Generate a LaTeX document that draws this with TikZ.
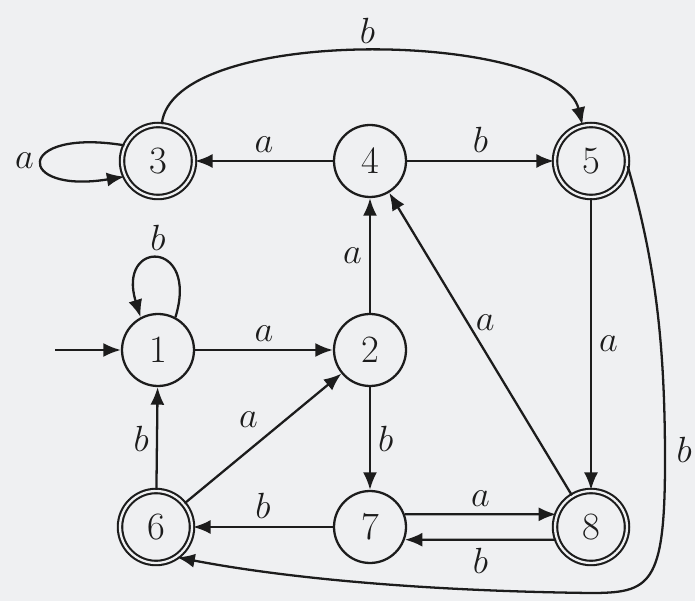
\documentclass[tikz,border=0pt]{standalone}
\usepackage{xcolor}
\usepackage{tikz}
\usetikzlibrary{arrows.meta}

\definecolor{paper}{RGB}{239,240,242}
\definecolor{ink}{RGB}{28,28,28}

\begin{document}
\begin{tikzpicture}[
        x=0.02cm, y=0.02cm,
        state/.style={circle, draw=ink, line width=1.3pt, fill=paper, minimum size=1.44cm, inner sep=0pt, text=ink, font=\fontsize{22}{26}\selectfont},
        accepting/.style={state, double=paper, double distance=1.3pt, line width=1.2pt},
        arrow/.style={-{Latex[length=10pt,width=8pt]}, line width=1.3pt, draw=ink},
        lbl/.style={font=\huge, text=ink, inner sep=4pt}
    ]

        \fill[paper] (0,0) rectangle (695,601);
        \useasboundingbox (0,0) rectangle (695,601);

        % States
        \node[accepting] (n3) at (158,440) {3};
        \node[state] (n4) at (370,440) {4};
        \node[accepting] (n5) at (591,440) {5};
        \node[state] (n1) at (158,251) {1};
        \node[state] (n2) at (370,251) {2};
        \node[accepting] (n6) at (156,74) {6};
        \node[state] (n7) at (370,74) {7};
        \node[accepting] (n8) at (591,74) {8};
        \coordinate (start) at (55,251);

        % Transitions
        \draw[arrow] (start) -- (n1);
        \draw[arrow] (n1.62) .. controls +(24,78) and +(-24,78) .. node[lbl, above] {$b$} (n1.118);
        \draw[arrow] (n3.155) .. controls +(-110,18) and +(-110,-18) .. node[lbl, left] {$a$} (n3.205);
        \draw[arrow] (n3) .. controls (172,578) and (560,570) .. node[lbl, above] {$b$} (n5);
        \draw[arrow] (n4) -- node[lbl, above] {$a$} (n3);
        \draw[arrow] (n4) -- node[lbl, above] {$b$} (n5);
        \draw[arrow] (n1) -- node[lbl, above] {$a$} (n2);
        \draw[arrow] (n2) -- node[lbl, left] {$a$} (n4);
        \draw[arrow] (n2) -- node[lbl, right] {$b$} (n7);
        \draw[arrow] (n6) -- node[lbl, left] {$b$} (n1);
        \draw[arrow] (n6) -- node[lbl, above left, pos=0.52] {$a$} (n2);
        \draw[arrow] (n8) -- node[lbl, right, pos=0.57] {$a$} (n4);
        \draw[arrow] (n5) -- node[lbl, right] {$a$} (n8);
        \draw[arrow] (n7) -- node[lbl, above] {$b$} (n6);
        \draw[arrow] (n7.20) -- node[lbl, above] {$a$} (n8.160);
        \draw[arrow] (n8.-160) -- node[lbl, below] {$b$} (n7.-20);
        \draw[arrow] (n5.-8) .. controls (655,340) and (665,260) .. node[lbl, right, pos=0.97, xshift=2pt] {$b$} (665,140)
            .. controls (665,15) and (650,8) .. (590,8)
            .. controls (430,10) and (290,22) .. (n6.-55);

    \end{tikzpicture}
\end{document}
